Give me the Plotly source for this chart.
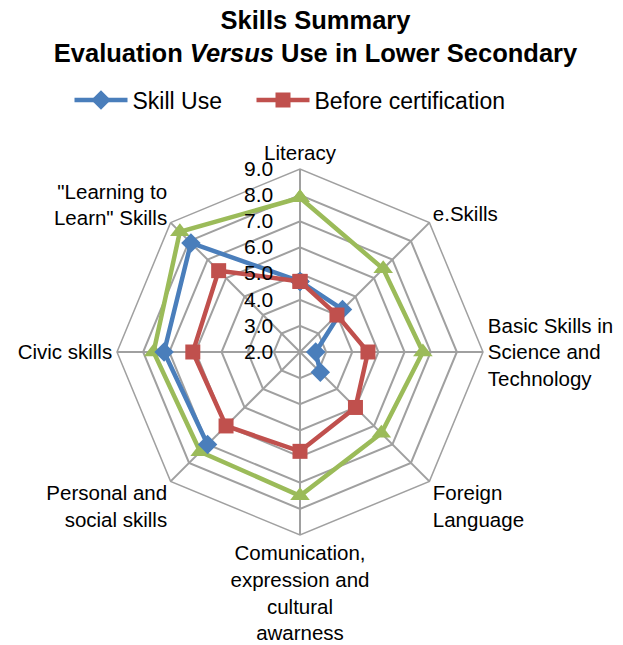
import plotly.graph_objects as go

categories = [
    'Literacy',
    'e.Skills',
    'Basic Skills in<br>Science and<br>Technology',
    'Foreign<br>Language',
    'Comunication,<br>expression and<br>cultural<br>awarness',
    'Personal and<br>social skills',
    'Civic skills',
    '"Learning to<br>Learn" Skills',
]

skill_use = [4.7, 4.3, 2.6, 3.1, None, 7.0, 7.2, 7.9]
before_cert = [4.7, 4.0, 4.6, 5.0, 5.8, 6.0, 6.1, 6.4]
after_cert = [7.9, 6.5, 6.7, 6.4, 7.5, 7.4, 7.6, 8.5]

radial_ticks = [2, 3, 4, 5, 6, 7, 8, 9]

FONT = 'Liberation Sans, Arial, sans-serif'

# the page body adds an 8px margin, so the figure is a bit smaller than the window
W, H = 615, 637


def closed(vals):
    return vals + vals[:1]


theta = closed(categories)

fig = go.Figure()

fig.add_trace(go.Scatterpolar(
    r=closed(after_cert), theta=theta, name='After certification',
    mode='lines+markers', showlegend=False,
    line=dict(color='#9BBB59', width=4.5),
    marker=dict(symbol='triangle-up', size=17, color='#9BBB59'),
))
fig.add_trace(go.Scatterpolar(
    r=closed(skill_use), theta=theta, name='Skill Use',
    mode='lines+markers', connectgaps=False, legend='legend',
    line=dict(color='#4A7EBB', width=4.5),
    marker=dict(symbol='diamond', size=15, color='#4A7EBB'),
))
fig.add_trace(go.Scatterpolar(
    r=closed(before_cert), theta=theta, name='Before certification',
    mode='lines+markers', legend='legend2',
    line=dict(color='#C0504D', width=4.5),
    marker=dict(symbol='square', size=15, color='#C0504D'),
))

legend_style = dict(
    orientation='h', y=1 - 92 / H, xanchor='left', yanchor='middle',
    font=dict(size=23, family=FONT), itemwidth=53, bgcolor='rgba(0,0,0,0)',
)

fig.update_layout(
    width=W, height=H,
    margin=dict(l=0, r=0, t=0, b=0),
    paper_bgcolor='white',
    font=dict(family=FONT, color='black'),
    title=dict(
        text='<b>Skills Summary<br>Evaluation <i>Versus</i> Use in Lower Secondary</b>',
        x=0.5, xanchor='center', y=1 - 21 / H, yanchor='top',
        font=dict(size=25.5, family=FONT, color='black'),
    ),
    legend=dict(x=61.5 / W, **legend_style),
    legend2=dict(x=243.5 / W, **legend_style),
    polar=dict(
        domain=dict(x=[109 / W, 475 / W], y=[110 / H, 476 / H]),
        gridshape='linear',
        bgcolor='white',
        angularaxis=dict(
            rotation=90, direction='clockwise',
            showline=True, linecolor='#A0A0A0', linewidth=1.5,
            gridcolor='#A0A0A0', gridwidth=1.5,
            ticks='', tickfont=dict(size=20.5, family=FONT),
        ),
        radialaxis=dict(
            range=[2, 9], tickvals=radial_ticks, tickformat='.1f',
            angle=90, tickangle=90, side='counterclockwise',
            showline=False, gridcolor='#A0A0A0', gridwidth=1.5,
            ticks='outside', ticklen=19, tickcolor='rgba(0,0,0,0)',
            tickfont=dict(size=21, family=FONT),
        ),
    ),
)

fig.write_html('out.html')
